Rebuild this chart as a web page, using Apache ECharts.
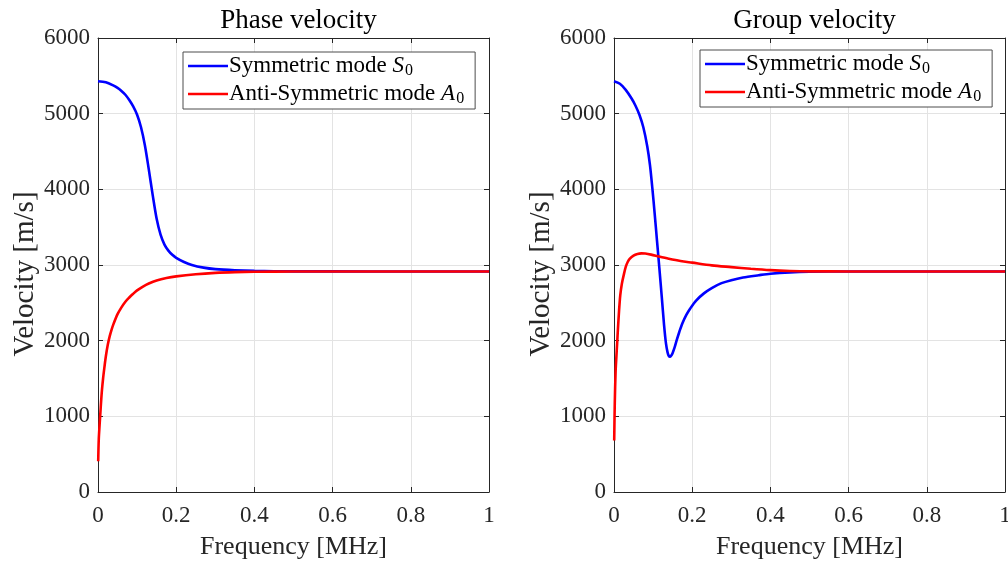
<!DOCTYPE html>
<html>
<head>
<meta charset="utf-8">
<script src="https://cdn.jsdelivr.net/npm/echarts@6/dist/echarts.min.js"></script>
<style>
  html, body { margin: 0; padding: 0; background: #ffffff; }
  #chart { width: 1008px; height: 564px; }
</style>
</head>
<body>
<div id="chart"></div>
<script>
// Lamb-wave dispersion curves of a plate: frequency in MHz, velocity in m/s.
const xTicks = [0, 0.2, 0.4, 0.6, 0.8, 1];
const yTicks = [0, 1000, 2000, 3000, 4000, 5000, 6000];

const seriesNames = ['Symmetric mode S0', 'Anti-Symmetric mode A0'];
const panelTitles = ['Phase velocity', 'Group velocity'];

// Phase velocity, S0 mode
const phaseS0Freq = [0, 0.02, 0.04, 0.05, 0.06, 0.07, 0.08, 0.09, 0.10, 0.11, 0.12, 0.13, 0.14, 0.15, 0.16, 0.17, 0.18, 0.19, 0.20, 0.22, 0.24, 0.27, 0.30, 0.35, 0.40, 0.5, 0.7, 1.0];
const phaseS0Vel  = [5429, 5415, 5370, 5340, 5300, 5250, 5180, 5095, 4985, 4820, 4580, 4260, 3920, 3610, 3400, 3270, 3190, 3135, 3095, 3040, 3000, 2965, 2945, 2930, 2922, 2916, 2915, 2915];

// Phase velocity, A0 mode
const phaseA0Freq = [0.0005, 0.002, 0.004, 0.006, 0.008, 0.010, 0.013, 0.016, 0.020, 0.025, 0.030, 0.035, 0.040, 0.050, 0.060, 0.070, 0.080, 0.090, 0.100, 0.115, 0.130, 0.150, 0.175, 0.200, 0.250, 0.300, 0.350, 0.400, 0.5, 0.7, 1.0];
const phaseA0Vel  = [407, 700, 880, 1040, 1200, 1340, 1500, 1630, 1790, 1945, 2060, 2150, 2225, 2350, 2440, 2515, 2570, 2620, 2665, 2715, 2755, 2795, 2828, 2850, 2878, 2896, 2906, 2911, 2914, 2915, 2915];

// Group velocity, S0 mode
const groupS0Freq = [0, 0.015, 0.030, 0.045, 0.055, 0.065, 0.075, 0.085, 0.092, 0.098, 0.104, 0.110, 0.116, 0.122, 0.128, 0.133, 0.137, 0.140, 0.143, 0.146, 0.150, 0.155, 0.160, 0.167, 0.175, 0.185, 0.195, 0.210, 0.230, 0.250, 0.275, 0.300, 0.330, 0.370, 0.400, 0.450, 0.500, 0.600, 1.0];
const groupS0Vel  = [5429, 5395, 5315, 5200, 5105, 4985, 4820, 4570, 4320, 4020, 3680, 3320, 2960, 2590, 2210, 1960, 1845, 1800, 1787, 1800, 1838, 1910, 2000, 2115, 2230, 2340, 2425, 2530, 2625, 2695, 2760, 2800, 2835, 2865, 2885, 2903, 2911, 2915, 2915];

// Group velocity, A0 mode
const groupA0Freq = [0.0005, 0.002, 0.004, 0.006, 0.008, 0.010, 0.013, 0.016, 0.020, 0.025, 0.030, 0.035, 0.040, 0.050, 0.060, 0.070, 0.080, 0.095, 0.115, 0.140, 0.170, 0.200, 0.250, 0.300, 0.350, 0.400, 0.450, 0.500, 0.600, 1.0];
const groupA0Vel  = [680, 1180, 1580, 1780, 1960, 2150, 2400, 2600, 2750, 2870, 2975, 3040, 3080, 3125, 3146, 3153, 3151, 3137, 3112, 3083, 3053, 3031, 2995, 2972, 2950, 2932, 2921, 2916, 2915, 2915];

const FONT = 'Liberation Serif';
const INK = '#262626';

function pairs(xs, ys) { return xs.map((x, i) => [x, ys[i]]); }

const chart = echarts.init(document.getElementById('chart'), null, { renderer: 'canvas' });

const gridLeft = [98, 614];
const gridW = 391, gridTop = 38, gridH = 454;

const grids = [], xAxes = [], yAxes = [], titles = [], legends = [], series = [];

const legendRich = {
  t:   { fontFamily: FONT, fontSize: 23, color: '#000', lineHeight: 26 },
  it:  { fontFamily: FONT, fontSize: 23, fontStyle: 'italic', color: '#000', lineHeight: 26 },
  sub: { fontFamily: FONT, fontSize: 16, color: '#000', lineHeight: 26, verticalAlign: 'bottom', padding: [9, 0, 0, 1] }
};
function legendText(name) {
  const parts = name.split(' ');
  const last = parts.pop();
  return '{t|' + parts.join(' ') + ' }{it|' + last[0] + '}{sub|' + last.slice(1) + '}';
}

const panels = [
  { s0: pairs(phaseS0Freq, phaseS0Vel), a0: pairs(phaseA0Freq, phaseA0Vel), legendLeft: 183, legendTop: 52 },
  { s0: pairs(groupS0Freq, groupS0Vel), a0: pairs(groupA0Freq, groupA0Vel), legendLeft: 700, legendTop: 50 }
];

panels.forEach((p, k) => {
  grids.push({
    left: gridLeft[k], top: gridTop, width: gridW, height: gridH,
    containLabel: false, outerBoundsMode: 'none', show: false
  });

  const common = {
    type: 'value',
    gridIndex: k,
    axisLine: { show: true, onZero: false, lineStyle: { color: INK, width: 1 } },
    axisTick: { show: true, inside: true, length: 5, lineStyle: { color: INK } }
  };

  xAxes.push(Object.assign({}, common, {
    position: 'bottom', min: xTicks[0], max: xTicks[xTicks.length - 1], interval: 0.2,
    axisLabel: { show: true, margin: 12, color: INK, fontFamily: FONT, fontSize: 23,
                 formatter: v => (Math.abs(v) < 1e-9 ? '0' : String(+v.toFixed(1))) },
    splitLine: { show: true, lineStyle: { color: '#e3e3e3', width: 1 } },
    name: 'Frequency [MHz]', nameLocation: 'middle', nameGap: 42,
    nameTextStyle: { color: INK, fontFamily: FONT, fontSize: 26 }
  }));
  xAxes.push(Object.assign({}, common, {
    position: 'top', min: xTicks[0], max: xTicks[xTicks.length - 1], interval: 0.2,
    axisLabel: { show: false }, splitLine: { show: false }
  }));

  yAxes.push(Object.assign({}, common, {
    position: 'left', min: yTicks[0], max: yTicks[yTicks.length - 1], interval: 1000,
    axisLabel: { show: true, margin: 8, color: INK, fontFamily: FONT, fontSize: 23,
                 formatter: v => String(Math.round(v)) },
    splitLine: { show: true, lineStyle: { color: '#e3e3e3', width: 1 } },
    name: 'Velocity [m/s]', nameLocation: 'middle', nameGap: 56, nameRotate: 90,
    nameTextStyle: { color: INK, fontFamily: FONT, fontSize: 29, padding: [0, 18, 0, 0] }
  }));
  yAxes.push(Object.assign({}, common, {
    position: 'right', min: yTicks[0], max: yTicks[yTicks.length - 1], interval: 1000,
    axisLabel: { show: false }, splitLine: { show: false }
  }));

  titles.push({
    text: panelTitles[k],
    left: gridLeft[k] + gridW / 2, top: 2, textAlign: 'center',
    textStyle: { fontFamily: FONT, fontSize: 27, fontWeight: 'normal', color: '#000' }
  });

  legends.push({
    orient: 'vertical', left: p.legendLeft, top: p.legendTop,
    backgroundColor: '#fff', borderColor: '#4d4d4d', borderWidth: 1, borderRadius: 0,
    padding: [2, 11, 2, 5], itemGap: 3, itemWidth: 40, itemHeight: 2.6,
    icon: 'rect',
    selectedMode: false,
    data: seriesNames,
    formatter: legendText,
    textStyle: { rich: legendRich, padding: [0, 0, 0, -4] }
  });

  series.push({
    name: seriesNames[0], type: 'line', xAxisIndex: 2 * k, yAxisIndex: 2 * k,
    data: p.s0, showSymbol: false, symbol: 'none', smooth: 0.3,
    lineStyle: { color: '#0000ff', width: 2.6 }, itemStyle: { color: '#0000ff' },
    animation: false, z: 3
  });
  series.push({
    name: seriesNames[1], type: 'line', xAxisIndex: 2 * k, yAxisIndex: 2 * k,
    data: p.a0, showSymbol: false, symbol: 'none', smooth: 0.3,
    lineStyle: { color: '#ff0000', width: 2.6 }, itemStyle: { color: '#ff0000' },
    animation: false, z: 4
  });
});

chart.setOption({
  backgroundColor: '#ffffff',
  animation: false,
  title: titles,
  legend: legends,
  grid: grids,
  xAxis: xAxes,
  yAxis: yAxes,
  series: series
});
</script>
</body>
</html>
